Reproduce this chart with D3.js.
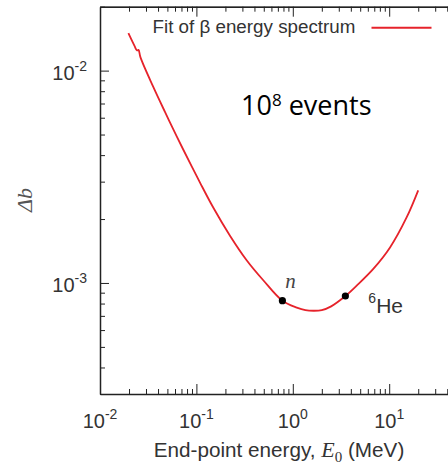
<!DOCTYPE html>
<html>
<head>
<meta charset="utf-8">
<script src="https://cdn.jsdelivr.net/npm/d3@7"></script>
<style>
  html, body { margin: 0; padding: 0; background: #fff; }
  svg { display: block; }
</style>
</head>
<body>
<svg id="chart" width="448" height="464"></svg>
<script>
// Sensitivity on the Fierz term b versus beta end-point energy
const energy = [0.0197, 0.0228, 0.0242, 0.0251, 0.0263, 0.0357, 0.0472, 0.0625, 0.0894, 0.109, 0.150, 0.223, 0.332, 0.494, 0.78, 1.1, 1.35, 1.65, 2.0, 2.5, 3.51, 4.60, 6.84, 10.2, 15.2, 20.0];
const deltaB = [0.0150, 0.01307, 0.01245, 0.01252, 0.01154, 0.00838, 0.00639, 0.00490, 0.00354, 0.00297, 0.00226, 0.00167, 0.00128, 0.00103, 0.000825, 0.000766, 0.000745, 0.000740, 0.000745, 0.000776, 0.000868, 0.000972, 0.001165, 0.00147, 0.00204, 0.00273];

// Highlighted decays
const markerNames = ["n", "6He"];
const markerEnergy = [0.78, 3.51];
const markerDeltaB = [0.000825, 0.000868];

// Axis ticks
const xMajor = [1e-2, 1e-1, 1e0, 1e1, 1e2];
const xExponents = ["-2", "-1", "0", "1"];
const yMajor = [1e-3, 1e-2];
const yExponents = ["-3", "-2"];

const legendLabel = "Fit of \u03B2 energy spectrum";
const noteText = "10";
const noteSup = "8";
const noteTail = " events";

const svg = d3.select("#chart");
const plotLeft = 100, plotRight = 485.6, plotTop = 6.7, plotBottom = 394;
const axisColor = "#222";
const textColor = "#333";
const red = "#e6232b";

const x = d3.scaleLog().domain([1e-2, 1e2]).range([plotLeft, plotRight]);
const y = d3.scaleLog().domain([3e-4, 2e-2]).range([plotBottom, plotTop]);

// minor ticks: 2..9 of each decade
function minors(lo, hi) {
  const out = [];
  for (let e = Math.floor(Math.log10(lo)); e <= Math.ceil(Math.log10(hi)); e++) {
    for (let m = 2; m <= 9; m++) {
      const v = m * Math.pow(10, e);
      if (v >= lo * 0.999 && v <= hi * 1.001) out.push(v);
    }
  }
  return out;
}
const xMinor = minors(1e-2, 1e2);
const yMinor = minors(3e-4, 2e-2);

// Axes: inward ticks, major ticks longer than minor ones
function drawAxis(axisFn, scale, transform, majors, minorVals, majorLen, minorLen) {
  svg.append("g").attr("transform", transform).attr("color", axisColor)
    .call(axisFn(scale).tickValues(minorVals).tickSizeInner(-minorLen).tickSizeOuter(0).tickFormat(() => ""));
  const gMaj = svg.append("g").attr("transform", transform).attr("color", axisColor)
    .call(axisFn(scale).tickValues(majors).tickSizeInner(-majorLen).tickSizeOuter(0).tickFormat(() => ""));
  gMaj.select(".domain").attr("stroke-width", 1.5);
}
drawAxis(d3.axisBottom, x, `translate(0,${plotBottom})`, xMajor, xMinor, 10, 5);
drawAxis(d3.axisTop, x, `translate(0,${plotTop})`, xMajor, xMinor, 10, 5);
drawAxis(d3.axisLeft, y, `translate(${plotLeft},0)`, yMajor, yMinor, 9, 5);

const labelFont = "'Liberation Sans', Arial, sans-serif";
const serifFont = "'Liberation Serif', 'DejaVu Serif', serif";

// x tick labels: 10^n
const xl = svg.append("g").attr("font-family", labelFont).attr("fill", textColor);
xExponents.forEach((ex, i) => {
  const t = xl.append("text").attr("x", x(xMajor[i])).attr("y", 428).attr("text-anchor", "middle")
    .attr("font-size", 20);
  t.append("tspan").text("10");
  t.append("tspan").attr("dy", -9).attr("font-size", 14).text(ex);
});

// y tick labels
const yl = svg.append("g").attr("font-family", labelFont).attr("fill", textColor);
yMajor.forEach((v, i) => {
  const t = yl.append("text").attr("x", 87).attr("y", y(v) + 9).attr("text-anchor", "end")
    .attr("font-size", 20);
  t.append("tspan").text("10");
  t.append("tspan").attr("dy", -9).attr("font-size", 14).text(yExponents[i]);
});

// axis titles
const xt = svg.append("text").attr("x", 279).attr("y", 457).attr("text-anchor", "middle")
  .attr("font-family", labelFont).attr("font-size", 20.7).attr("fill", textColor);
xt.append("tspan").text("End-point energy, ");
xt.append("tspan").attr("font-family", serifFont)
  .attr("font-style", "italic").attr("font-size", 22).text("E");
xt.append("tspan").attr("font-family", serifFont)
  .attr("font-size", 15).attr("dy", 5).text("0");
xt.append("tspan").attr("dy", -5).text(" (MeV)");

svg.append("text")
  .attr("transform", "translate(32,200) rotate(-90)")
  .attr("text-anchor", "middle")
  .attr("font-family", serifFont)
  .attr("font-style", "italic").attr("font-size", 22).attr("fill", "#555")
  .text("\u0394b");

// fitted curve
svg.append("defs").append("clipPath").attr("id", "plot")
  .append("rect").attr("x", plotLeft).attr("y", plotTop)
  .attr("width", plotRight - plotLeft).attr("height", plotBottom - plotTop);

const pts = energy.map((e, i) => [e, deltaB[i]]);
svg.append("path")
  .datum(pts)
  .attr("clip-path", "url(#plot)")
  .attr("fill", "none")
  .attr("stroke", red)
  .attr("stroke-width", 1.8)
  .attr("stroke-linejoin", "round")
  .attr("d", d3.line().x(d => x(d[0])).y(d => y(d[1])).curve(d3.curveCatmullRom.alpha(0.5)));

// markers
const mk = svg.append("g");
markerEnergy.forEach((e, i) => {
  mk.append("circle").attr("cx", x(e)).attr("cy", y(markerDeltaB[i])).attr("r", 3.6).attr("fill", "#000");
});
// n label
svg.append("text").attr("x", x(markerEnergy[0]) + 8).attr("y", y(markerDeltaB[0]) - 13)
  .attr("text-anchor", "middle")
  .attr("font-family", serifFont).attr("font-style", "italic")
  .attr("font-size", 21).attr("fill", "#444").text(markerNames[0]);
// 6He label
const he = svg.append("text").attr("x", x(markerEnergy[1]) + 23).attr("y", y(markerDeltaB[1]) + 17)
  .attr("font-family", labelFont).attr("font-size", 21).attr("fill", textColor);
he.append("tspan").attr("font-size", 14).attr("dy", -10).text(markerNames[1].slice(0, 1));
he.append("tspan").attr("dy", 10).text(markerNames[1].slice(1));

// legend
svg.append("text").attr("x", 152.5).attr("y", 33.3)
  .attr("font-family", labelFont).attr("font-size", 18.8).attr("fill", textColor)
  .text(legendLabel);
svg.append("line").attr("x1", 371.5).attr("x2", 431.5).attr("y1", 27.7).attr("y2", 27.7)
  .attr("stroke", red).attr("stroke-width", 2);

// event count note
const note = svg.append("text").attr("x", 241).attr("y", 115)
  .attr("font-family", "'Open Sans', sans-serif").attr("font-size", 27).attr("fill", "#000");
note.append("tspan").text(noteText);
note.append("tspan").attr("font-size", 17).attr("dy", -9).text(noteSup);
note.append("tspan").attr("dy", 9).text(noteTail);
</script>
</body>
</html>
